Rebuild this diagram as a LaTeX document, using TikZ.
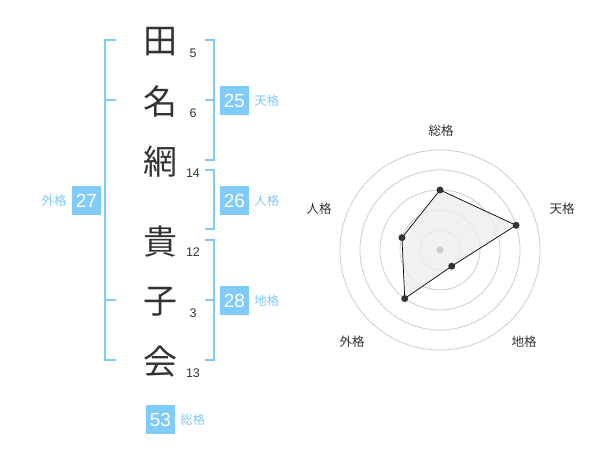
\documentclass[tikz,border=0pt]{standalone}
\usepackage{fontspec}
\setmainfont{Liberation Sans}
\newfontfamily\cjk{Noto Sans CJK JP}
\usepackage{xcolor}
\usepackage{tikz}
\usetikzlibrary{positioning}
\definecolor{kakublue}{HTML}{80CBF8}
\definecolor{inkgray}{HTML}{333333}
\definecolor{ringgray}{HTML}{CCCCCC}
\tikzset{
    tnode/.style = {align=center, inner sep=0pt, text centered},
    kanji/.style = {tnode, inkgray, font=\cjk\fontsize{34}{34}\selectfont},
    stroke_num/.style = {tnode, inkgray, font=\fontsize{12.5}{13}\selectfont},
    score_box/.style = {tnode, fill=kakublue, text=white, minimum width=29pt, minimum height=29pt, font=\fontsize{19}{19}\selectfont},
    kaku_label/.style = {tnode, kakublue, font=\cjk\fontsize{12.5}{13}\selectfont},
    axis_label/.style = {tnode, inkgray, font=\cjk\fontsize{12.5}{13}\selectfont},
    bracket/.style = {kakublue, line width=2pt},
    ring/.style = {ringgray, line width=0.8pt},
    dot/.style = {circle, fill=inkgray, inner sep=0pt, minimum size=7pt},
    center_dot/.style = {circle, fill=ringgray, inner sep=0pt, minimum size=7pt}
}
\begin{document}
\begin{tikzpicture}[x=1pt, y=-1pt]
    \useasboundingbox (0,0) rectangle (600,470);

    % name
    \node [kanji] (k1) at (160,42) {田};
    \node [kanji] (k2) at (160,102) {名};
    \node [kanji] (k3) at (160,162) {網};
    \node [kanji] (k4) at (160,242) {貴};
    \node [kanji] (k5) at (160,302) {子};
    \node [kanji] (k6) at (160,362) {会};

    % strokes
    \node [stroke_num] (n1) at (193,53) {5};
    \node [stroke_num] (n2) at (193,113) {6};
    \node [stroke_num] (n3) at (193,173) {14};
    \node [stroke_num] (n4) at (193,252) {12};
    \node [stroke_num] (n5) at (193,313) {3};
    \node [stroke_num] (n6) at (193,373) {13};

    % brackets
    \draw [bracket] (116,40) -- (105,40) -- (105,360) -- (116,360);
    \draw [bracket] (105,100) -- (116,100);
    \draw [bracket] (105,300) -- (116,300);
    \draw [bracket] (205,40) -- (214,40) -- (214,160) -- (205,160);
    \draw [bracket] (214,100) -- (205,100);
    \draw [bracket] (205,170) -- (214,170) -- (214,229) -- (205,229);
    \draw [bracket] (205,240) -- (214,240) -- (214,360) -- (205,360);
    \draw [bracket] (214,300) -- (205,300);

    % scores
    \node [score_box] (ten) at (234.5,100.5) {25};
    \node [kaku_label, right=5pt of ten] (ten_l) {天格};
    \node [score_box] (jin) at (234.5,200.5) {26};
    \node [kaku_label, right=5pt of jin] (jin_l) {人格};
    \node [score_box] (chi) at (234.5,300.5) {28};
    \node [kaku_label, right=5pt of chi] (chi_l) {地格};
    \node [score_box] (gai) at (86.5,200.5) {27};
    \node [kaku_label, left=5pt of gai] (gai_l) {外格};
    \node [score_box] (sou) at (160.5,419.5) {53};
    \node [kaku_label, right=5pt of sou] (sou_l) {総格};

    % radar
    \coordinate (c) at (440,250);
    \foreach \r in {20,40,...,100}
        \draw [ring] (c) circle [radius=\r pt];
    \foreach \p/\a/\d in {ps/90/60, pt/18/80, pc/-54/20, pg/-126/60, pj/162/40}
        \coordinate (\p) at ([shift={(\a:\d pt)}]c);
    \filldraw [fill=black!7, fill opacity=0.8, draw=black, line width=0.7pt]
        (ps) -- (pt) -- (pc) -- (pg) -- (pj) -- cycle;
    \node [center_dot] (cd) at (c) {};
    \foreach \p in {ps,pt,pc,pg,pj}
        \node [dot] (d\p) at (\p) {};

    \node [axis_label] (a_sou) at (441,131) {総格};
    \node [axis_label] (a_ten) at (562,209) {天格};
    \node [axis_label] (a_chi) at (524,342) {地格};
    \node [axis_label] (a_gai) at (352,342) {外格};
    \node [axis_label] (a_jin) at (319,209) {人格};
\end{tikzpicture}
\end{document}
